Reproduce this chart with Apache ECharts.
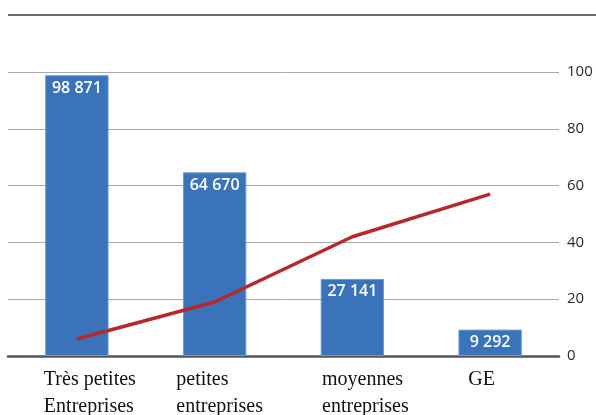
<!DOCTYPE html>
<html><head><meta charset="utf-8">
<script src="https://cdn.jsdelivr.net/npm/echarts@6/dist/echarts.min.js"></script>
<style>html,body{margin:0;padding:0;background:#fff}#c{width:596px;height:415px}</style>
</head><body><div id="c"></div>
<script>
const categories = ["Très petites\nEntreprises", "petites\nentreprises", "moyennes\nentreprises", "GE"];
const labelShift = [13, 5, 13, -8.5];
const barValues = [98871, 64670, 27141, 9292];
const lineValues = [6, 19, 42, 57];
const rightTicks = [0, 20, 40, 60, 80, 100];

function fmt(v){ return String(v).replace(/\B(?=(\d{3})+(?!\d))/g, ' '); }

const chart = echarts.init(document.getElementById('c'), null, {renderer:'canvas'});
chart.setOption({
  animation:false,
  grid:{left:8, right:37, top:72, bottom:59, containLabel:false, outerBoundsMode:'none'},
  graphic:[{type:'line', shape:{x1:8,y1:15,x2:596,y2:15}, style:{stroke:'#6b6b6b', lineWidth:2}}],
  xAxis:{
    type:'category',
    data: categories.map((c,i)=>({value:c, textStyle:{padding: labelShift[i]>=0 ? [0,0,0,2*labelShift[i]] : [0,-2*labelShift[i],0,0]}})),
    axisTick:{show:false},
    axisLine:{lineStyle:{color:'#555', width:2.5}},
    axisLabel:{
      fontFamily:'Liberation Serif', fontSize:20, lineHeight:27, color:'#111', margin:10, interval:0,
      formatter: v => v.split('\n').map(s => '{l|' + s + '}').join('\n'),
      rich:{l:{align:'left', fontFamily:'Liberation Serif', fontSize:20, lineHeight:27, color:'#111'}}
    }
  },
  yAxis:[{
    type:'value', position:'right', min:rightTicks[0], max:rightTicks[rightTicks.length-1], interval:20,
    axisLine:{show:false}, axisTick:{show:false},
    splitLine:{lineStyle:{color:'#a8a8a8', width:1}},
    axisLabel:{fontFamily:'Open Sans', fontSize:15, color:'#2a2a2a', margin:8}
  },{
    type:'value', min:0, max:100000, show:false, splitLine:{show:false}
  }],
  series:[{
    type:'bar', yAxisIndex:1, data:barValues, barWidth:'46%',
    itemStyle:{color:'#3a73b9', borderColor:'#6c9ad2', borderWidth:1},
    label:{show:true, position:'insideTop', distance:5, color:'#fff', fontFamily:'Open Sans', fontWeight:600, fontSize:16,
      formatter:p=>fmt(p.value)}
  },{
    type:'line', yAxisIndex:0, data:lineValues, symbol:'none',
    lineStyle:{color:'#b5282d', width:3.5}, z:5
  }]
});
</script></body></html>
